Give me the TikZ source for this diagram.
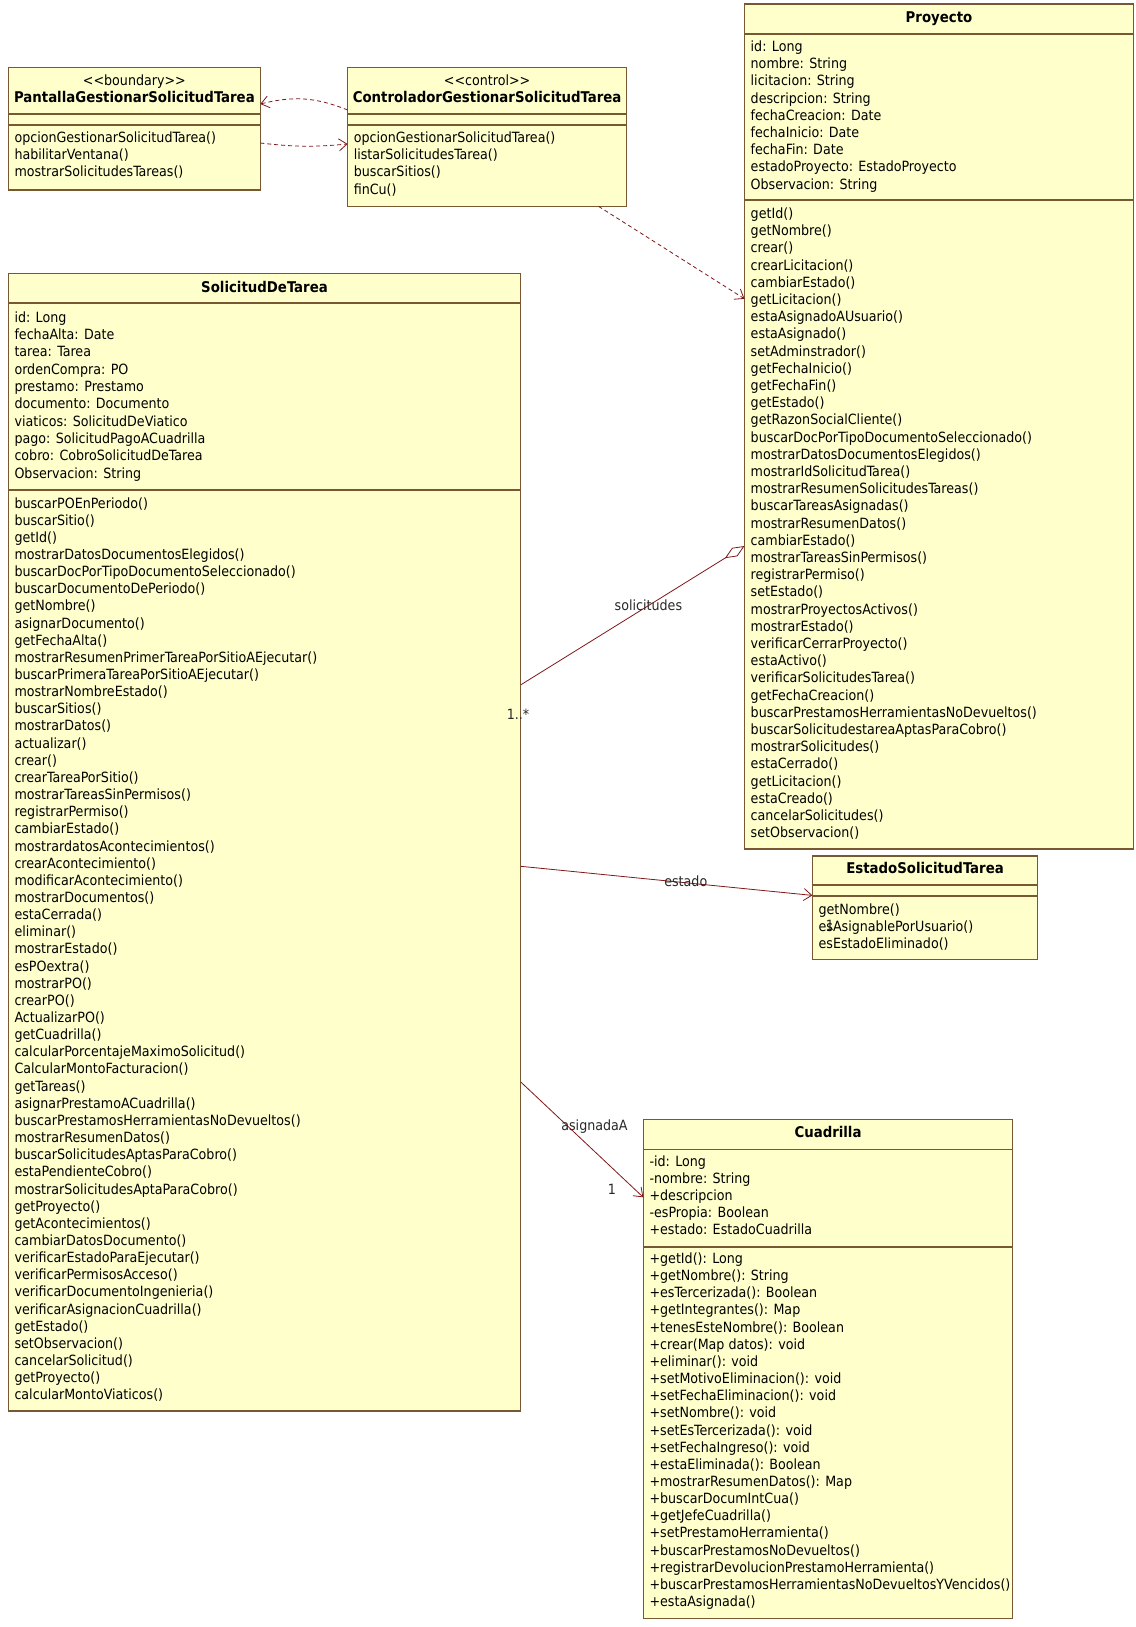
\documentclass[tikz,border=0pt]{standalone}
\usepackage{fontspec}
\setmainfont{DejaVu Sans Condensed}
\usetikzlibrary{arrows.meta}
\definecolor{boxfill}{RGB}{255,255,204}
\definecolor{boxline}{RGB}{120,88,50}
\definecolor{conn}{RGB}{128,24,24}
\definecolor{lbl}{RGB}{40,40,40}
\begin{document}
\begin{tikzpicture}[x=1pt,y=-1pt,
  cls/.style={draw=boxline,fill=boxfill,line width=1.3pt,anchor=north west,inner sep=0pt,outer sep=0pt},
  sepl/.style={draw=boxline,line width=1.3pt},
  txt/.style={anchor=west,inner sep=0pt,font=\fontsize{14.1}{16}\selectfont,text height=10pt,text depth=3pt},
  ttl/.style={anchor=center,inner sep=0pt,font=\bfseries\fontsize{14.8}{16}\selectfont,text height=10pt,text depth=3pt},
  ster/.style={anchor=center,inner sep=0pt,font=\fontsize{14.1}{16}\selectfont,text height=10pt,text depth=3pt},
  lab/.style={inner sep=0pt,text=lbl,font=\fontsize{14.1}{16}\selectfont,text height=10pt,text depth=3pt},
  assoc/.style={draw=conn,line width=0.8pt},
  dep/.style={draw=conn,line width=0.8pt,dash pattern=on 4pt off 3pt},
  openarr/.style={-{Straight Barb[length=8pt,width=12pt]}}
]
\fill[white] (0,0) rectangle (1135,1627);
\useasboundingbox (0,0) rectangle (1135,1627);

% ---------- Pantalla ----------
\node[cls,minimum width=252pt,minimum height=122.5pt] (pant) at (8.3,67.4) {};
\node[ster] (pantst) at (134.4,82) {<\kern0pt<boundary>\kern0pt>};
\node[ttl] (pantt) at (134.4,99) {PantallaGestionarSolicitudTarea};
\draw[sepl] (pant.west |- 0,114) -- (pant.east |- 0,114);
\draw[sepl] (pant.west |- 0,125) -- (pant.east |- 0,125);
\foreach \t [count=\i from 0] in {opcionGestionarSolicitudTarea(),habilitarVentana(),mostrarSolicitudesTareas()}
  \node[txt] (pantm\i) at (14.3,{139+\i*17.2}) {\t};

% ---------- Controlador ----------
\node[cls,minimum width=279pt,minimum height=139pt] (ctrl) at (347.6,67.4) {};
\node[ster] (ctrlst) at (487.1,82) {<\kern0pt<control>\kern0pt>};
\node[ttl] (ctrlt) at (487.1,99) {ControladorGestionarSolicitudTarea};
\draw[sepl] (ctrl.west |- 0,114) -- (ctrl.east |- 0,114);
\draw[sepl] (ctrl.west |- 0,125) -- (ctrl.east |- 0,125);
\foreach \t [count=\i from 0] in {opcionGestionarSolicitudTarea(),listarSolicitudesTarea(),buscarSitios(),finCu()}
  \node[txt] (ctrlm\i) at (353.6,{139+\i*17.2}) {\t};

% ---------- Proyecto ----------
\node[cls,minimum width=389pt,minimum height=845pt] (proy) at (744.5,4) {};
\node[ttl] (proyt) at (939,19) {Proyecto};
\draw[sepl] (proy.west |- 0,34) -- (proy.east |- 0,34);
\draw[sepl] (proy.west |- 0,200) -- (proy.east |- 0,200);
\foreach \t [count=\i from 0] in {id: Long,nombre: String,licitacion: String,descripcion: String,fechaCreacion: Date,fechaInicio: Date,fechaFin: Date,estadoProyecto: EstadoProyecto,Observacion: String}
  \node[txt] (proya\i) at (750.5,{48+\i*17.2}) {\t};
\foreach \t [count=\i from 0] in {getId(),getNombre(),crear(),crearLicitacion(),cambiarEstado(),getLicitacion(),estaAsignadoAUsuario(),estaAsignado(),setAdminstrador(),getFechaInicio(),getFechaFin(),getEstado(),getRazonSocialCliente(),buscarDocPorTipoDocumentoSeleccionado(),mostrarDatosDocumentosElegidos(),mostrarIdSolicitudTarea(),mostrarResumenSolicitudesTareas(),buscarTareasAsignadas(),mostrarResumenDatos(),cambiarEstado(),mostrarTareasSinPermisos(),registrarPermiso(),setEstado(),mostrarProyectosActivos(),mostrarEstado(),verificarCerrarProyecto(),estaActivo(),verificarSolicitudesTarea(),getFechaCreacion(),buscarPrestamosHerramientasNoDevueltos(),buscarSolicitudestareaAptasParaCobro(),mostrarSolicitudes(),estaCerrado(),getLicitacion(),estaCreado(),cancelarSolicitudes(),setObservacion()}
  \node[txt] (proym\i) at (750.5,{215+\i*17.2}) {\t};

% ---------- SolicitudDeTarea ----------
\node[cls,minimum width=512.5pt,minimum height=1137.5pt] (sol) at (8.3,273.5) {};
\node[ttl] (solt) at (264.5,288.5) {SolicitudDeTarea};
\draw[sepl] (sol.west |- 0,303) -- (sol.east |- 0,303);
\draw[sepl] (sol.west |- 0,490) -- (sol.east |- 0,490);
\foreach \t [count=\i from 0] in {id: Long,fechaAlta: Date,tarea: Tarea,ordenCompra: PO,prestamo: Prestamo,documento: Documento,viaticos: SolicitudDeViatico,pago: SolicitudPagoACuadrilla,cobro: CobroSolicitudDeTarea,Observacion: String}
  \node[txt] (sola\i) at (14.3,{318.5+\i*17.35}) {\t};
\foreach \t [count=\i from 0] in {buscarPOEnPeriodo(),buscarSitio(),getId(),mostrarDatosDocumentosElegidos(),buscarDocPorTipoDocumentoSeleccionado(),buscarDocumentoDePeriodo(),getNombre(),asignarDocumento(),getFechaAlta(),mostrarResumenPrimerTareaPorSitioAEjecutar(),buscarPrimeraTareaPorSitioAEjecutar(),mostrarNombreEstado(),buscarSitios(),mostrarDatos(),actualizar(),crear(),crearTareaPorSitio(),mostrarTareasSinPermisos(),registrarPermiso(),cambiarEstado(),mostrardatosAcontecimientos(),crearAcontecimiento(),modificarAcontecimiento(),mostrarDocumentos(),estaCerrada(),eliminar(),mostrarEstado(),esPOextra(),mostrarPO(),crearPO(),ActualizarPO(),getCuadrilla(),calcularPorcentajeMaximoSolicitud(),CalcularMontoFacturacion(),getTareas(),asignarPrestamoACuadrilla(),buscarPrestamosHerramientasNoDevueltos(),mostrarResumenDatos(),buscarSolicitudesAptasParaCobro(),estaPendienteCobro(),mostrarSolicitudesAptaParaCobro(),getProyecto(),getAcontecimientos(),cambiarDatosDocumento(),verificarEstadoParaEjecutar(),verificarPermisosAcceso(),verificarDocumentoIngenieria(),verificarAsignacionCuadrilla(),getEstado(),setObservacion(),cancelarSolicitud(),getProyecto(),calcularMontoViaticos()}
  \node[txt] (solm\i) at (14.3,{504.5+\i*17.15}) {\t};

% ---------- EstadoSolicitudTarea ----------
\node[cls,minimum width=225pt,minimum height=103.7pt] (est) at (812.4,856) {};
\node[ttl] (estt) at (925,869.5) {EstadoSolicitudTarea};
\draw[sepl] (est.west |- 0,885) -- (est.east |- 0,885);
\draw[sepl] (est.west |- 0,896) -- (est.east |- 0,896);
\foreach \t [count=\i from 0] in {getNombre(),esAsignablePorUsuario(),esEstadoEliminado()}
  \node[txt] (estm\i) at (818.4,{910.5+\i*17.3}) {\t};

% ---------- Cuadrilla ----------
\node[cls,minimum width=369.3pt,minimum height=499pt] (cuad) at (643.3,1119.5) {};
\node[ttl] (cuadt) at (828,1133.5) {Cuadrilla};
\draw[sepl] (cuad.west |- 0,1149.5) -- (cuad.east |- 0,1149.5);
\draw[sepl] (cuad.west |- 0,1247) -- (cuad.east |- 0,1247);
\foreach \t [count=\i from 0] in {-id: Long,-nombre: String,+descripcion,-esPropia: Boolean,+estado: EstadoCuadrilla}
  \node[txt] (cuada\i) at (649.3,{1162.5+\i*17.2}) {\t};
\foreach \t [count=\i from 0] in {+getId(): Long,+getNombre(): String,+esTercerizada(): Boolean,+getIntegrantes(): Map,+tenesEsteNombre(): Boolean,+crear(Map datos): void,+eliminar(): void,+setMotivoEliminacion(): void,+setFechaEliminacion(): void,+setNombre(): void,+setEsTercerizada(): void,+setFechaIngreso(): void,+estaEliminada(): Boolean,+mostrarResumenDatos(): Map,+buscarDocumIntCua(),+getJefeCuadrilla(),+setPrestamoHerramienta(),+buscarPrestamosNoDevueltos(),+registrarDevolucionPrestamoHerramienta(),+buscarPrestamosHerramientasNoDevueltosYVencidos(),+estaAsignada()}
  \node[txt] (cuadm\i) at (649.3,{1260+\i*17.15}) {\t};

% ---------- connectors ----------
\draw[dep,openarr] (ctrl.west |- 0,110) to[bend right=18] (pant.east |- 0,104);
\draw[dep,openarr] (pant.east |- 0,143) to[bend right=6] (ctrl.west |- 0,144);
\draw[dep,openarr] (ctrl.south -| 598.6,0) -- (proy.west |- 0,298.8);

\draw[assoc,-{Diamond[open,length=23pt,width=10pt]}] (sol.east |- 0,684.8) -- (proy.west |- 0,546);
\node[lab] (lsol) at (648.4,606.5) {solicitudes};
\node[lab] (lmult) at (518,716) {1..*};

\draw[assoc,openarr] (sol.east |- 0,866.3) -- (est.west |- 0,895.4);
\node[lab] (lest) at (685.8,883) {estado};
\node[lab] (lest1) at (830,926.5) {1};

\draw[assoc,openarr] (sol.east |- 0,1082) -- (cuad.west |- 0,1197.3);
\node[lab] (lasig) at (594.5,1126.7) {asignadaA};
\node[lab] (lasig1) at (612,1191) {1};
\end{tikzpicture}
\end{document}
